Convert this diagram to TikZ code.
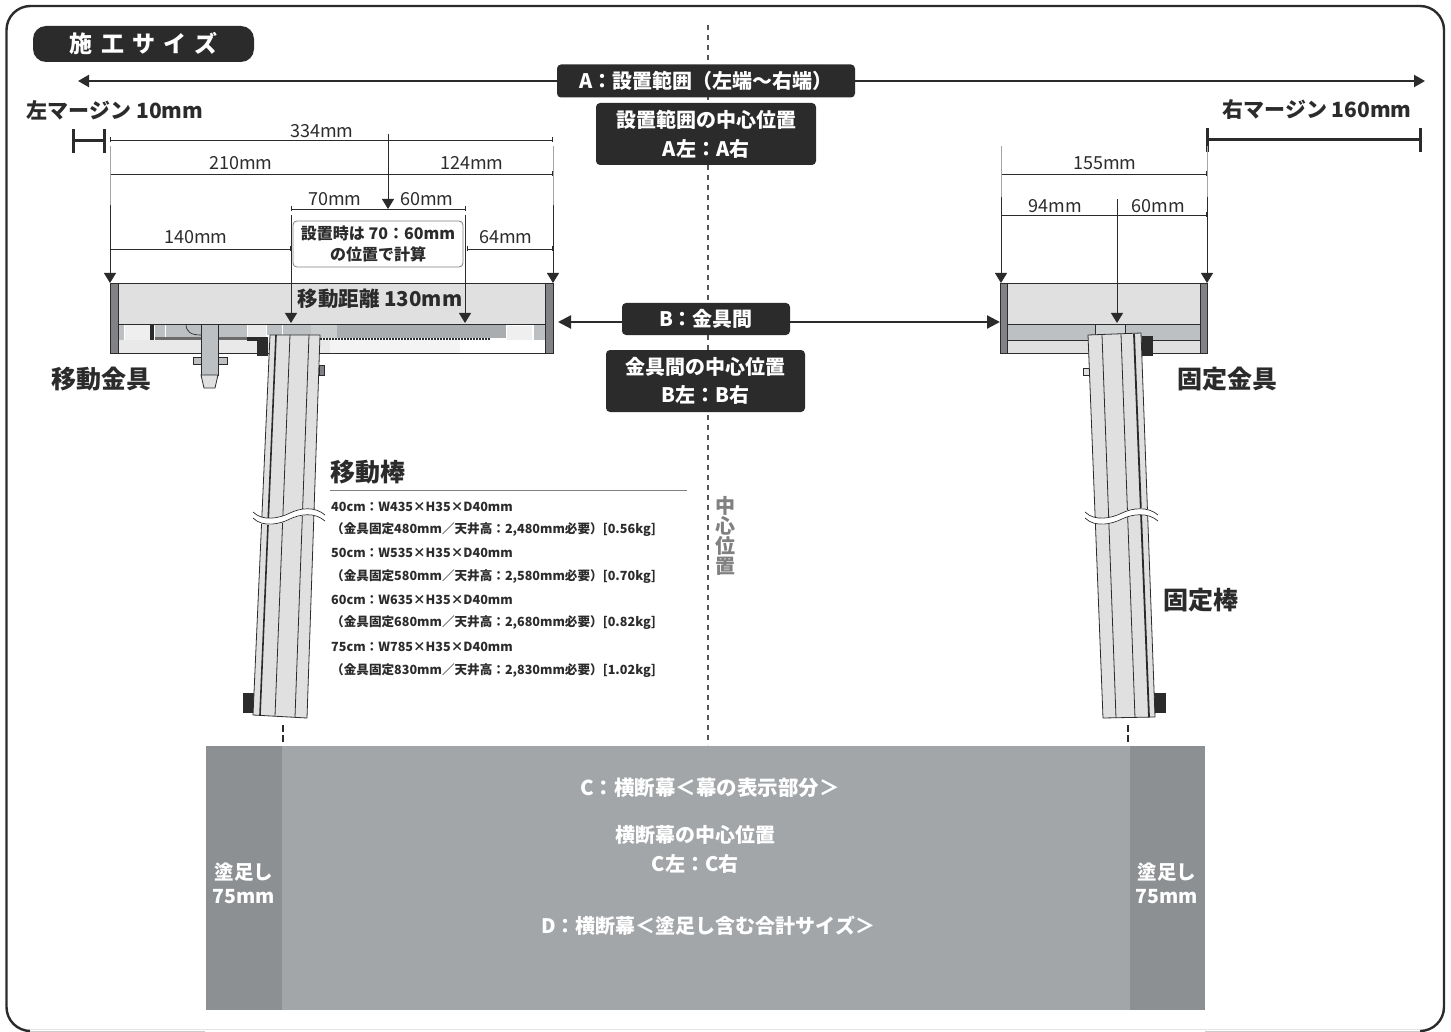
\documentclass[tikz,border=0pt]{standalone}
\usepackage{fontspec}
\setmainfont{Noto Sans CJK JP}
\newfontfamily\jpwide{Noto Sans CJK JP}[LetterSpace=36]
\usetikzlibrary{arrows.meta}
\definecolor{ink}{HTML}{2B2B2B}
\definecolor{panel}{HTML}{E0E0E0}
\definecolor{mech}{HTML}{BCC0C2}
\definecolor{band}{HTML}{808285}
\definecolor{cloth}{HTML}{A2A6A9}
\definecolor{bleed}{HTML}{8C9093}
\begin{document}
\begin{tikzpicture}[x=1pt,y=-1pt]
    \tikzset{
    tag/.style={rounded corners=4pt,fill=ink,text=white,font=\bfseries,inner sep=0pt,align=center},
    dimlabel/.style={font=\fontsize{18}{18}\selectfont,text=ink,inner sep=0pt},
    head/.style={font=\fontsize{25}{25}\selectfont\bfseries,text=ink,inner sep=0pt},
    margin/.style={font=\fontsize{21}{21}\selectfont\bfseries,text=ink,inner sep=0pt},
    spec/.style={font=\fontsize{12.6}{12.6}\selectfont\bfseries,text=ink,inner sep=0pt,anchor=west},
    onbanner/.style={font=\fontsize{20}{20}\selectfont\bfseries,text=white,inner sep=0pt,align=center},
    c1/.style={draw=ink,line width=0.7pt,{Bar[width=5pt,line width=0.6pt]}-{Bar[width=5pt,line width=0.6pt]}},
    c2/.style={draw=ink,line width=1pt,-{Triangle[length=10pt,width=12pt]}},
    c3/.style={draw=ink,line width=2.2pt,{Triangle[length=11pt,width=12pt]}-{Triangle[length=11pt,width=12pt]}},
    c4/.style={draw=ink,line width=2.2pt,-{Triangle[length=13pt,width=13pt]}},
    c5/.style={draw=gray!70,line width=0.8pt},
    c6/.style={draw=ink,line width=3pt,{Bar[width=24pt,line width=3pt]}-{Bar[width=24pt,line width=3pt]}},
    part/.style={draw=ink,line width=0.8pt},
    }
    \useasboundingbox (0,0) rectangle (1451,1032);
    \draw[ink,line width=2.4pt,rounded corners=24pt] (6.5,6) rectangle (1444,1031);
    \draw[white,line width=3pt] (30,1031) -- (1420,1031);
    \draw[gray!40,line width=1pt] (30,1031) -- (205,1031);
    \draw[gray!40,line width=1pt] (1205,1031) -- (1420,1031);

    % centre line
    \coordinate (cT) at (708,25);
    \coordinate (cB) at (708,745);
    \draw[ink!80,line width=2pt,dash pattern=on 5pt off 5pt] (cT) -- (cB);
    \node[fill=white,font=\fontsize{20}{20}\selectfont\bfseries,text=gray,align=center,inner sep=0pt] (nMid) at (725,536) {中\\心\\位\\置};

    % title
    \node[tag,rounded corners=13pt,minimum width=221pt,minimum height=36pt,font=\fontsize{23}{23}\selectfont\bfseries\jpwide] (nTitle) at (143.5,44) {施工サイズ};

    % A
    \coordinate (aC) at (708,81);
    \coordinate (aL) at (78,81);
    \coordinate (aR) at (1425,81);
    \draw[c3] (aL) -- (aR);
    \node[tag,minimum width=298pt,minimum height=33pt,font=\fontsize{20}{20}\selectfont\bfseries] (nA) at (706,81) {A：設置範囲（左端〜右端）};
    \node[tag,minimum width=220pt,minimum height=62pt,font=\fontsize{20}{29}\selectfont\bfseries] (nA2) at (706,134) {設置範囲の中心位置\\A左：A右};

    % margins
    \node[margin] (nML) at (115,110) {左マージン 10mm};
    \node[margin] (nMR) at (1317,110) {右マージン 160mm};
    \coordinate (mL1) at (72,141);
    \coordinate (mL2) at (106,141);
    \coordinate (mR1) at (1206,140);
    \coordinate (mR2) at (1422,140);
    \draw[c6] (mL1) -- (mL2);
    \draw[c6] (mR1) -- (mR2);

    % left bracket
    \fill[panel] (110,283) rectangle (553,353);
    \fill[white] (118,324) rectangle (545,353);
    \fill[panel!70] (118,340) rectangle (330,353);
    \fill[panel!35] (330,340) rectangle (460,353);
    \fill[mech] (118,324) rectangle (124,340);
    \fill[panel!50] (125,324) rectangle (150,340);
    \fill[ink] (150,324) rectangle (154,340);
    \fill[mech] (155,324) rectangle (165,337);
    \fill[mech] (166,324) rectangle (247,337);
    \fill[ink!70] (155,337) rectangle (247,340);
    \draw[ink,line width=0.7pt] (186,324) .. controls (186,332) and (191,335) .. (201,335);
    \fill[panel!70] (248,324) rectangle (266,338);
    \fill[mech] (267,324) rectangle (282,335);
    \fill[mech] (283,324) rectangle (311,335);
    \fill[mech!80] (311,324) rectangle (337,338);
    \fill[mech!90!black] (337,324) rectangle (506,338);
    \draw[ink,line width=1.2pt,dash pattern=on 2pt off 1pt] (320,339) -- (490,339);
    \fill[panel!50] (507,326) rectangle (532,340);
    \fill[mech] (534,324) rectangle (545,340);
    \fill[ink] (247,337) rectangle (258,341);
    \fill[ink] (257,337) rectangle (268,356);
    \draw[part] (110,324) -- (553,324);
    \draw[part] (118,353) -- (545,353);
    \draw[part,fill=band] (110,283) rectangle (118,353);
    \draw[part,fill=band] (545,283) rectangle (553,353);
    \draw[part] (110,283) -- (553,283);
    % bolt
    \draw[part,fill=mech] (193,357) rectangle (227,364);
    \draw[part,fill=mech] (201,324) rectangle (218,375);
    \draw[part,fill=panel] (201,375) -- (218,375) -- (215,388) -- (204,388) -- cycle;

    \node[dimlabel,font=\fontsize{20.5}{20.5}\selectfont\bfseries] (nMove) at (380,299) {移動距離 130mm};

    % moving bar
    \draw[part,fill=band] (319,365) rectangle (324,375);
    \fill[ink] (243,693) rectangle (255,713);
    \draw[part,fill=panel] (270,335) -- (320,335) -- (307,718) -- (253,715) -- cycle;
    \draw[part] (290,335) -- (275,716);
    \draw[part] (309,335) -- (295,717);
    \draw[ink,line width=1.6pt] (276,335) -- (260,715);
    \draw[white,fill=white,line width=0pt] (253,512) .. controls (263,522) and (280,518) .. (290,513) .. controls (300,508) and (315,506) .. (325,515) -- (325,521) .. controls (315,512) and (300,514) .. (290,519) .. controls (280,524) and (263,528) .. (253,518) -- cycle;
    \draw[ink,line width=0.7pt] (253,512) .. controls (263,522) and (280,518) .. (290,513) .. controls (300,508) and (315,506) .. (325,515);
    \draw[ink,line width=0.7pt] (253,518) .. controls (263,528) and (280,524) .. (290,519) .. controls (300,514) and (315,512) .. (325,521);
    \coordinate (b1a) at (283,725);
    \coordinate (b1b) at (283,745);
    \draw[ink,line width=2.5pt,dash pattern=on 7pt off 3pt] (b1a) -- (b1b);

    % left dimensions
    \node[dimlabel] (n334) at (322,131) {334mm};
    \node[dimlabel] (n210) at (241,163) {210mm};
    \node[dimlabel] (n124) at (472,163) {124mm};
    \node[dimlabel] (n70) at (335,199) {70mm};
    \node[dimlabel] (n60) at (427,199) {60mm};
    \node[dimlabel] (n140) at (196,237) {140mm};
    \node[dimlabel] (n64) at (506,237) {64mm};
    \coordinate (d1a) at (110,140);
    \coordinate (d1b) at (553,140);
    \coordinate (d2a) at (110,174);
    \coordinate (d2b) at (553,174);
    \coordinate (d3a) at (291,209);
    \coordinate (d3b) at (466,209);
    \coordinate (d4a) at (110,249);
    \coordinate (d4b) at (291,249);
    \coordinate (d5a) at (467,249);
    \coordinate (d5b) at (553,249);
    \draw[c1] (d1a) -- (d1b);
    \draw[c1] (d2a) -- (d2b);
    \draw[c1] (d3a) -- (d3b);
    \draw[c1] (d4a) -- (d4b);
    \draw[c1] (d5a) -- (d5b);
    \coordinate (e1) at (110,146);
    \coordinate (e2) at (110,205);
    \coordinate (e3) at (110,283);
    \coordinate (e4) at (553,146);
    \coordinate (e5) at (553,205);
    \coordinate (e6) at (553,283);
    \coordinate (e7) at (291,215);
    \coordinate (e8) at (291,323);
    \coordinate (e9) at (465,215);
    \coordinate (e10) at (465,323);
    \coordinate (e11) at (388,134);
    \coordinate (e12) at (388,209);
    \draw[c5] (e1) -- (e2);
    \draw[c5] (e4) -- (e5);
    \draw[c2] (e2) -- (e3);
    \draw[c2] (e5) -- (e6);
    \draw[c2] (e7) -- (e8);
    \draw[c2] (e9) -- (e10);
    \draw[c2] (e11) -- (e12);
    \node[draw=gray,fill=white,rounded corners=4pt,line width=0.8pt,minimum width=170pt,minimum height=46pt,inner sep=0pt,align=center,text=ink,font=\fontsize{16}{21}\selectfont\bfseries] (nNote) at (378,244) {設置時は 70：60mm\\の位置で計算};

    % B
    \coordinate (bC) at (708,322);
    \coordinate (bL) at (558,322);
    \coordinate (bR) at (1000,322);
    \draw[c4] (bC) -- (bL);
    \draw[c4] (bC) -- (bR);
    \node[tag,minimum width=168pt,minimum height=32pt,font=\fontsize{20}{20}\selectfont\bfseries] (nB) at (706,319) {B：金具間};
    \node[tag,minimum width=199pt,minimum height=62pt,font=\fontsize{20}{28}\selectfont\bfseries] (nB2) at (705.5,381) {金具間の中心位置\\B左：B右};

    % right bracket
    \fill[panel] (1000,283) rectangle (1207,353);
    \fill[mech] (1007,324) rectangle (1200,340);
    \draw[part,fill=mech!70] (1095,324) rectangle (1125,335);
    \draw[part] (1000,324) -- (1207,324);
    \draw[part] (1000,340) -- (1207,340);
    \draw[part,fill=band] (1000,283) rectangle (1007,353);
    \draw[part,fill=band] (1200,283) rectangle (1207,353);
    \draw[part] (1000,283) -- (1207,283);
    \draw[part] (1000,353) -- (1207,353);
    \fill[ink] (1142,336) rectangle (1153,356);
    \fill[ink] (1154,693) rectangle (1166,713);
    \draw[part,fill=panel] (1083,368) rectangle (1089,375);

    % fixed bar
    \draw[part,fill=panel] (1088,335) -- (1141,333) -- (1155,717) -- (1103,718) -- cycle;
    \draw[part] (1102,335) -- (1116,718);
    \draw[part] (1121,334) -- (1135,718);
    \draw[ink,line width=1.8pt] (1134,334) -- (1149,717);
    \draw[white,fill=white,line width=0pt] (1085,512) .. controls (1095,522) and (1112,518) .. (1122,513) .. controls (1132,508) and (1148,506) .. (1158,515) -- (1158,521) .. controls (1148,512) and (1132,514) .. (1122,519) .. controls (1112,524) and (1095,528) .. (1085,518) -- cycle;
    \draw[ink,line width=0.7pt] (1085,512) .. controls (1095,522) and (1112,518) .. (1122,513) .. controls (1132,508) and (1148,506) .. (1158,515);
    \draw[ink,line width=0.7pt] (1085,518) .. controls (1095,528) and (1112,524) .. (1122,519) .. controls (1132,514) and (1148,512) .. (1158,521);
    \coordinate (b2a) at (1128,725);
    \coordinate (b2b) at (1128,745);
    \draw[ink,line width=2.5pt,dash pattern=on 7pt off 3pt] (b2a) -- (b2b);

    % right dimensions
    \node[dimlabel] (n155) at (1105,163) {155mm};
    \node[dimlabel] (n94) at (1055,206) {94mm};
    \node[dimlabel] (n60r) at (1158,206) {60mm};
    \coordinate (d6a) at (1001,174);
    \coordinate (d6b) at (1207,174);
    \coordinate (d7a) at (1001,215);
    \coordinate (d7b) at (1207,215);
    \draw[c1] (d6a) -- (d6b);
    \draw[c1] (d7a) -- (d7b);
    \coordinate (f1) at (1001,146);
    \coordinate (f2) at (1001,197);
    \coordinate (f3) at (1001,283);
    \coordinate (f4) at (1207,146);
    \coordinate (f5) at (1207,197);
    \coordinate (f6) at (1207,283);
    \coordinate (f7) at (1117,199);
    \coordinate (f8) at (1117,323);
    \draw[c5] (f1) -- (f2);
    \draw[c5] (f4) -- (f5);
    \draw[c2] (f2) -- (f3);
    \draw[c2] (f5) -- (f6);
    \draw[c2] (f7) -- (f8);

    % names
    \node[head] (nMK) at (101,379) {移動金具};
    \node[head] (nFK) at (1227,379) {固定金具};
    \node[head] (nFB) at (1201,600) {固定棒};
    \node[head,anchor=west] (nMB) at (330,472) {移動棒};
    \coordinate (lA) at (330,490);
    \coordinate (lB) at (687,490);
    \draw[draw=gray,line width=1pt] (lA) -- (lB);
    \node[spec] (t1) at (331,507) {40cm：W435×H35×D40mm};
    \node[spec] (t2) at (331,530) {（金具固定480mm／天井高：2,480mm必要）[0.56kg]};
    \node[spec] (t3) at (331,553) {50cm：W535×H35×D40mm};
    \node[spec] (t4) at (331,577) {（金具固定580mm／天井高：2,580mm必要）[0.70kg]};
    \node[spec] (t5) at (331,600) {60cm：W635×H35×D40mm};
    \node[spec] (t6) at (331,623) {（金具固定680mm／天井高：2,680mm必要）[0.82kg]};
    \node[spec] (t7) at (331,647) {75cm：W785×H35×D40mm};
    \node[spec] (t8) at (331,671) {（金具固定830mm／天井高：2,830mm必要）[1.02kg]};

    % banner
    \fill[cloth] (206,746) rectangle (1205,1010);
    \fill[bleed] (206,746) rectangle (282,1010);
    \fill[bleed] (1130,746) rectangle (1205,1010);
    \node[onbanner,font=\fontsize{20.5}{20.5}\selectfont\bfseries] (nC) at (710,788) {C：横断幕＜幕の表示部分＞};
    \node[onbanner,font=\fontsize{20}{29}\selectfont\bfseries] (nC2) at (695,849.5) {横断幕の中心位置\\C左：C右};
    \node[onbanner] (nD) at (708,926) {D：横断幕＜塗足し含む合計サイズ＞};
    \node[onbanner,font=\fontsize{19.5}{24}\selectfont\bfseries] (nBL) at (244,883) {塗足し\\75mm};
    \node[onbanner,font=\fontsize{19.5}{24}\selectfont\bfseries] (nBR) at (1167,883) {塗足し\\75mm};
\end{tikzpicture}
\end{document}
